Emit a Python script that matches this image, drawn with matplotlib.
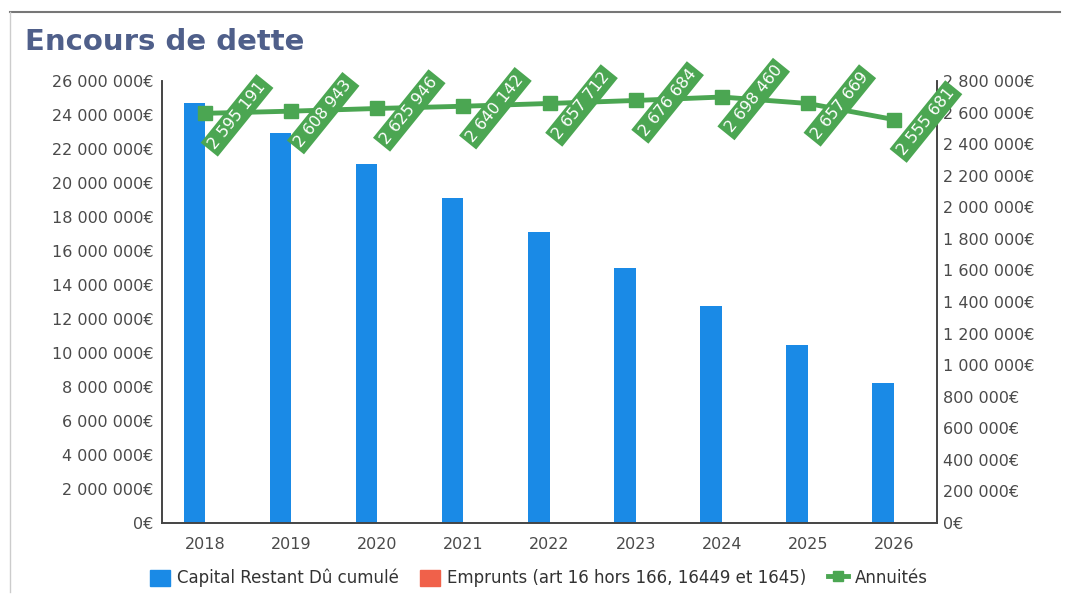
import numpy as np
import matplotlib
matplotlib.use("Agg")
import matplotlib.pyplot as plt
from matplotlib.lines import Line2D
from matplotlib.patches import Patch
from matplotlib.ticker import FuncFormatter

# data
years = ["2018", "2019", "2020", "2021", "2022", "2023", "2024", "2025", "2026"]
capital = [24720000, 22960000, 21120000, 19100000, 17120000, 14980000, 12760000, 10470000, 8250000]
emprunts = [0, 0, 0, 0, 0, 0, 0, 0, 0]
annuites = [2595191, 2608943, 2625946, 2640142, 2657712, 2676684, 2698460, 2657669, 2555681]

blue = "#1a8ae6"
red = "#f0614a"
green = "#4ba652"
txt = "#4a4a4a"

def euro(v, pos=None):
    s = "{:,.0f}".format(v).replace(",", " ")
    return s + "€"

fig = plt.figure(figsize=(10.72, 5.97), dpi=100)
ax = fig.add_axes([162/1072, 1-523/597, (937-162)/1072, (523-81)/597])
ax2 = ax.twinx()

x = np.arange(len(years))
w = 0.25
ax.bar(x - w/2, capital, w, color=blue, zorder=2)
ax.bar(x + w/2, emprunts, w, color=red, zorder=2)
ax.set_xlim(-0.5, len(years) - 0.5)
ax.set_ylim(0, 26000000)
ax.set_yticks(np.arange(0, 26000001, 2000000))
ax.yaxis.set_major_formatter(FuncFormatter(euro))
ax.set_xticks(x)
ax.set_xticklabels(years)

ax2.plot(x, annuites, color=green, lw=3.5, marker="s", ms=10, zorder=3)
ax2.set_ylim(0, 2800000)
ax2.set_yticks(np.arange(0, 2800001, 200000))
ax2.yaxis.set_major_formatter(FuncFormatter(euro))

for xi, v in zip(x, annuites):
    ax2.annotate(euro(v)[:-1], (xi, v), xytext=(32, -2), textcoords="offset pixels",
                 rotation=51, ha="center", va="center", color="white", fontsize=11.5,
                 bbox=dict(boxstyle="square,pad=0.22", fc=green, ec="none"), zorder=5,
                 annotation_clip=False)

for a in (ax, ax2):
    a.spines["top"].set_visible(False)
    for s in ("left", "right", "bottom"):
        a.spines[s].set_color("#444444")
        a.spines[s].set_linewidth(1.2)
    a.tick_params(length=0, labelsize=11.5, labelcolor=txt)
ax.tick_params(axis="y", pad=6)
ax.tick_params(axis="x", pad=10)
ax2.tick_params(axis="y", pad=4)
ax2.set_zorder(ax.get_zorder() + 1)
ax2.patch.set_visible(False)

fig.text(25/1072, 1-42/597, "Encours de dette", fontsize=21, fontweight="bold",
         color="#4f5f8a", va="center", ha="left")

handles = [Patch(color=blue), Patch(color=red),
           Line2D([], [], color=green, lw=3.5, marker="s", ms=7)]
labels = ["Capital Restant Dû cumulé", "Emprunts (art 16 hors 166, 16449 et 1645)", "Annuités"]
leg = fig.legend(handles, labels, loc="center", bbox_to_anchor=(539/1072, 1-578/597), ncol=3,
                 frameon=False, fontsize=12, handlelength=1.2, handleheight=1.1,
                 columnspacing=1.3, handletextpad=0.4)
for t in leg.get_texts():
    t.set_color("#333333")

# outer frame lines
fig.add_artist(Line2D([10/1072, 1060/1072], [1-12/597, 1-12/597], color="#777777", lw=1.5))
fig.add_artist(Line2D([10/1072, 10/1072], [1-12/597, 1-592/597], color="#cccccc", lw=1))

fig.savefig("out.png", dpi=100)
